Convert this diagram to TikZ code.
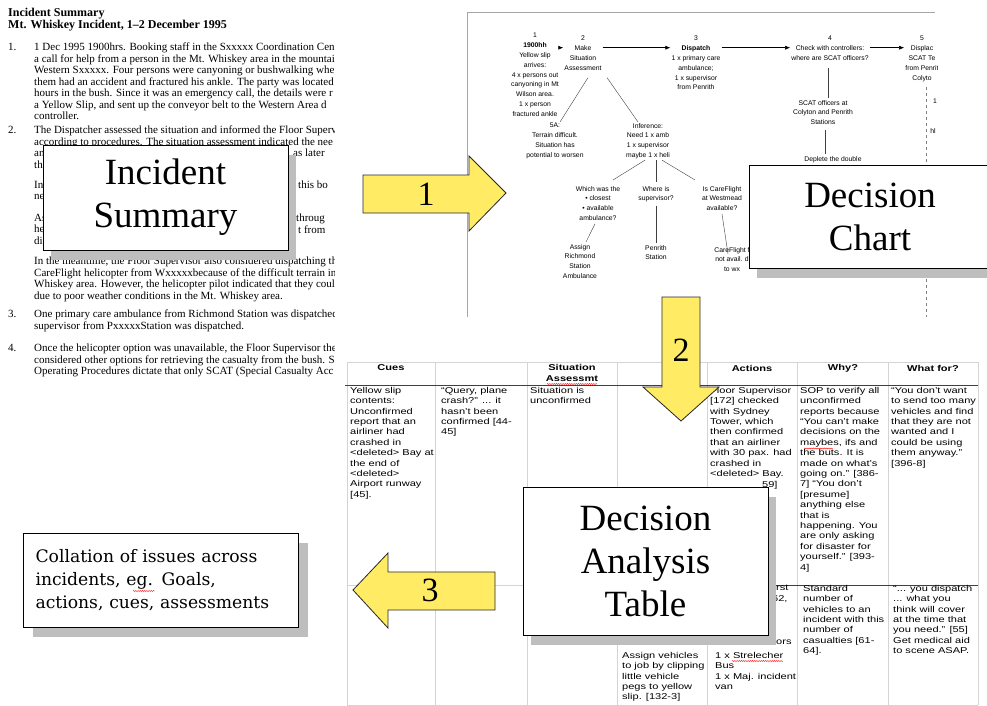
\documentclass[tikz,border=0pt]{standalone}
\usepackage{fontspec}
\setmainfont{Liberation Serif}
\newfontfamily\chartfont{Liberation Sans}
\newfontfamily\tablefont[FakeStretch=1.3]{Liberation Sans}
\newfontfamily\notefont{DejaVu Serif}
\usetikzlibrary{arrows.meta,shadows,decorations.pathmorphing}
\definecolor{arrowyellow}{RGB}{255,236,100}
\definecolor{shadowgrey}{RGB}{190,190,190}
\definecolor{gridgrey}{RGB}{212,212,212}
\tikzset{
  bigbox/.style={draw, fill=white, line width=0.9pt, align=center,
    font=\fontsize{37}{43}\selectfont,
    drop shadow={shadow xshift=8pt, shadow yshift=-10pt, fill=shadowgrey, opacity=1}},
  doctitle/.style={anchor=north west, align=left, inner sep=0pt, font=\bfseries\fontsize{12}{11.5}\selectfont},
  docpar/.style={anchor=north west, align=left, inner sep=0pt, font=\fontsize{11}{11.5}\selectfont},
  chart/.style={anchor=north, align=center, inner sep=1pt, font=\chartfont\fontsize{6.8}{9.8}\selectfont},
  link/.style={black!75, line width=0.4pt},
  flow/.style={-{Latex[length=5pt,width=4pt]}, line width=0.5pt},
  head/.style={align=center, inner sep=0pt, font=\tablefont\bfseries\fontsize{8.5}{10.4}\selectfont},
  cell/.style={anchor=north west, align=left, inner sep=0pt, font=\tablefont\fontsize{8.5}{10.4}\selectfont},
  bigarrow/.style={draw=black!85, fill=arrowyellow, line width=0.8pt},
  arrownum/.style={font=\fontsize{34}{34}\selectfont},
  spellmark/.style={red, line width=0.4pt, decorate, decoration={snake, amplitude=0.5pt, segment length=2.2pt}}
}
\begin{document}
\begin{tikzpicture}[x=1pt,y=-1pt]
\useasboundingbox (0,0) rectangle (987,706);

% incident summary page
\begin{scope}
  \clip (0,0) rectangle (334,400);
  \node[doctitle] (dtitle) at (8,8) {Incident Summary\\Mt. Whiskey Incident, 1–2 December 1995};
  \node[docpar] (num1) at (8,43) {1.};
  \node[docpar] (para1) at (34,43) {1 Dec 1995 1900hrs. Booking staff in the Sxxxxx Coordination Cen\\a call for help from a person in the Mt. Whiskey area in the mountai\\Western Sxxxxx. Four persons were canyoning or bushwalking whe\\them had an accident and fractured his ankle. The party was located\\hours in the bush. Since it was an emergency call, the details were r\\a Yellow Slip, and sent up the conveyor belt to the Western Area d\\controller.};
  \node[docpar] (num2) at (8,126) {2.};
  \node[docpar] (para2) at (34,126) {The Dispatcher assessed the situation and informed the Floor Superv\\according to procedures. The situation assessment indicated the nee\\an\\th};
  \node[docpar] (para2b) at (34,181) {In\\ne};
  \node[docpar] (para2c) at (34,214) {As\\he\\di};
  \node[docpar] (frag1) at (293,149) {as later};
  \node[docpar] (frag2) at (298,181) {this bo};
  \node[docpar] (frag3) at (296,214) {throug};
  \node[docpar] (frag4) at (298,225.5) {t from};
  \node[docpar] (para2d) at (34,257) {In the meantime, the Floor Supervisor also considered dispatching th\\CareFlight helicopter from Wxxxxxbecause of the difficult terrain in\\Whiskey area. However, the helicopter pilot indicated that they coul\\due to poor weather conditions in the Mt. Whiskey area.};
  \node[docpar] (num3) at (8,310) {3.};
  \node[docpar] (para3) at (34,310) {One primary care ambulance from Richmond Station was dispatched\\supervisor from PxxxxxStation was dispatched.};
  \node[docpar] (num4) at (8,344) {4.};
  \node[docpar] (para4) at (34,344) {Once the helicopter option was unavailable, the Floor Supervisor the\\considered other options for retrieving the casualty from the bush. S\\Operating Procedures dictate that only SCAT (Special Casualty Acc};
\end{scope}
\node[bigbox, minimum width=245pt, minimum height=105pt] (incident) at (165.5,197.5) {Incident\\Summary};

% decision chart page
\draw[gray!70, line width=0.6pt] (467,317) -- (467,12) -- (935,12);
\begin{scope}
  \clip (467,12) rectangle (937,317);
  \node[chart] (n1) at (535,32) {1\\\textbf{1900hh}\\Yellow slip\\arrives:\\4 x persons out\\canyoning in Mt\\Wilson area.\\1 x person\\fractured ankle};
  \node[chart] (n2) at (583,35) {2\\Make\\Situation\\Assessment};
  \node[chart] (n3) at (696,35) {3\\\textbf{Dispatch}\\1 x primary care\\ambulance;\\1 x supervisor\\from Penrith};
  \node[chart] (n4) at (830,35) {4\\Check with controllers:\\where are SCAT officers?};
  \node[chart] (n5) at (922,35) {5\\Displac\\SCAT Te\\from Penrit\\Colyto};
  \node[chart] (n5a) at (555,122) {5A:\\Terrain difficult.\\Situation has\\potential to worsen};
  \node[chart] (ninf) at (648,122) {Inference:\\Need 1 x amb\\1 x supervisor\\maybe 1 x heli};
  \node[chart] (nscat) at (823,99) {SCAT officers at\\Colyton and Penrith\\Stations};
  \node[chart] (ndeplete) at (833,155) {Deplete the double};
  \node[chart] (nwhich) at (598,185) {Which was the\\• closest\\• available\\ambulance?};
  \node[chart] (nwhere) at (656,185) {Where is\\supervisor?};
  \node[chart] (ncare) at (722,185) {Is CareFlight\\at Westmead\\available?};
  \node[chart] (nassign) at (580,243) {Assign\\Richmond\\Station\\Ambulance};
  \node[chart] (npenrith) at (656,244) {Penrith\\Station};
  \node[chart] (ncfno) at (732,246) {CareFlight f\\not avail. d\\to wx};
  \node[chart] (n5p) at (935,98) {1};
  \node[chart] (n5q) at (933,127) {hl};
  \draw[flow] (n1.east |- 0,47.7) -- (n2.west |- 0,47.7);
  \draw[flow] (n2.east |- 0,47.7) -- (n3.west |- 0,47.7);
  \draw[flow] (n3.east |- 0,47.7) -- (n4.west |- 0,47.7);
  \draw[flow] (n4.east |- 0,47.7) -- (n5.west |- 0,47.7);
  \draw[link] ([xshift=5pt,yshift=-6pt]n2.south) -- ([xshift=5pt]n5a.north);
  \draw[link] ([xshift=24pt,yshift=-6pt]n2.south) -- ([xshift=-10pt]ninf.north);
  \draw[link] ([xshift=-3pt]ninf.south) -- ([xshift=15pt,yshift=5pt]nwhich.north);
  \draw[link] ([xshift=8pt]ninf.south) -- ([yshift=3pt]nwhere.north);
  \draw[link] ([xshift=14pt]ninf.south) -- ([xshift=-27pt,yshift=5pt]ncare.north);
  \draw[link] ([xshift=-3pt,yshift=-2pt]nwhich.south) -- ([xshift=6pt,yshift=1pt]nassign.north);
  \draw[link] ([yshift=-2pt]nwhere.south) -- ([yshift=1pt]npenrith.north);
  \draw[link] ([yshift=-2pt]ncare.south) -- ([xshift=-4pt,yshift=-8pt]ncfno.north);
  \draw[link] ([xshift=-2pt,yshift=-6pt]n4.south) -- ([xshift=5pt,yshift=1pt]nscat.north);
  \draw[link] ([xshift=2pt,yshift=-4pt]nscat.south) -- ([xshift=-8pt,yshift=1pt]ndeplete.north);
  \draw[link, dashed, gray] ([xshift=4pt,yshift=-4pt]n5.south) -- ++(0,230);
\end{scope}
\node[bigbox, minimum width=242pt, minimum height=103pt] (chart) at (870,216.5) {Decision\\Chart};

% arrow 1
\filldraw[bigarrow] (363,175) -- (469,175) -- (469,156) -- (506,193) -- (469,231) -- (469,213) -- (363,213) -- cycle;
\node[arrownum] (one) at (426,194) {1};

% decision analysis table
\foreach \x in {347,435,527,617,707,797,888,978}
  \draw[gridgrey, line width=0.8pt] (\x,362) -- (\x,705);
\draw[gridgrey, line width=0.8pt] (347,362) -- (978,362);
\draw[gridgrey, line width=0.8pt] (347,585) -- (978,585);
\draw[gridgrey, line width=0.8pt] (347,705) -- (978,705);
\draw[black!75, line width=0.8pt] (345,385) -- (978,385);
\draw[black!75, line width=0.8pt] (775,585) -- (978,585);

\node[head] (hcues) at (391,368) {Cues};
\node[head] (hsit) at (572,373) {Situation\\Assessmt};
\node[head] (hact) at (752,368) {Actions};
\node[head] (hwhy) at (843,368) {Why?};
\node[head] (hwhat) at (933,368) {What for?};

\node[cell] (c11) at (350,387) {Yellow slip\\contents:\\Unconfirmed\\report that an\\airliner had\\crashed in\\<deleted> Bay at\\the end of\\<deleted>\\Airport runway\\{}[45].};
\node[cell] (c12) at (441,387) {“Query, plane\\crash?” ... it\\hasn’t been\\confirmed [44-\\45]};
\node[cell] (c13) at (530,387) {Situation is\\unconfirmed};
\node[cell] (c15) at (710,387) {Floor Supervisor\\{}[172] checked\\with Sydney\\Tower, which\\then confirmed\\that an airliner\\with 30 pax. had\\crashed in\\<deleted> Bay.};
\node[cell] (c15b) at (762,481) {59]};
\node[cell] (c16) at (800,387) {SOP to verify all\\unconfirmed\\reports because\\“You can’t make\\decisions on the\\maybes, ifs and\\the buts. It is\\made on what’s\\going on.” [386-\\7] “You don’t\\{}[presume]\\anything else\\that is\\happening. You\\are only asking\\for disaster for\\yourself.” [393-\\4]};
\node[cell] (c17) at (891,387) {“You don’t want\\to send too many\\vehicles and find\\that they are not\\wanted and I\\could be using\\them anyway.”\\{}[396-8]};
\node[cell] (c25a) at (776,585) {rst};
\node[cell] (c25b) at (772,595) {62,};
\node[cell] (c25c) at (776,640) {ors};
\node[cell] (c24) at (622,652) {Assign vehicles\\to job by clipping\\little vehicle\\pegs to yellow\\slip. [132-3]};
\node[cell] (c25) at (715,652) {1 x Strelecher\\Bus\\1 x Maj. incident\\van};
\node[cell] (c26) at (803,585) {Standard\\number of\\vehicles to an\\incident with this\\number of\\casualties [61-\\64].};
\node[cell] (c27) at (893,585) {“... you dispatch\\... what you\\think will cover\\at the time that\\you need.” [55]\\Get medical aid\\to scene ASAP.};
\draw[spellmark] (547,384) -- (597,384);
\draw[spellmark] (804,448.5) -- (833,448.5);
\draw[spellmark] (732,661) -- (783,661);

\node[bigbox, minimum width=245pt, minimum height=148pt] (analysis) at (645.5,561) {Decision\\Analysis\\Table};

% arrow 2
\filldraw[bigarrow] (662,297) -- (700,297) -- (700,387) -- (719,387) -- (681,421) -- (643,387) -- (662,387) -- cycle;
\node[arrownum] (two) at (681,350) {2};

% arrow 3
\filldraw[bigarrow] (495,572) -- (388,572) -- (388,553) -- (353,590) -- (388,628) -- (388,610) -- (495,610) -- cycle;
\node[arrownum] (three) at (430,590) {3};

% collation note
\node[draw, fill=white, line width=0.9pt, align=left, text width=250pt, inner xsep=12.5pt,
  minimum height=94pt, font=\notefont\fontsize{17.2}{23}\selectfont,
  drop shadow={shadow xshift=10pt, shadow yshift=-10pt, fill=shadowgrey, opacity=1}]
  (collate) at (160.5,580) {Collation of issues across\\incidents, eg. Goals,\\actions, cues, assessments};
\draw[spellmark] (133,591) -- (155,591);
\end{tikzpicture}
\end{document}
